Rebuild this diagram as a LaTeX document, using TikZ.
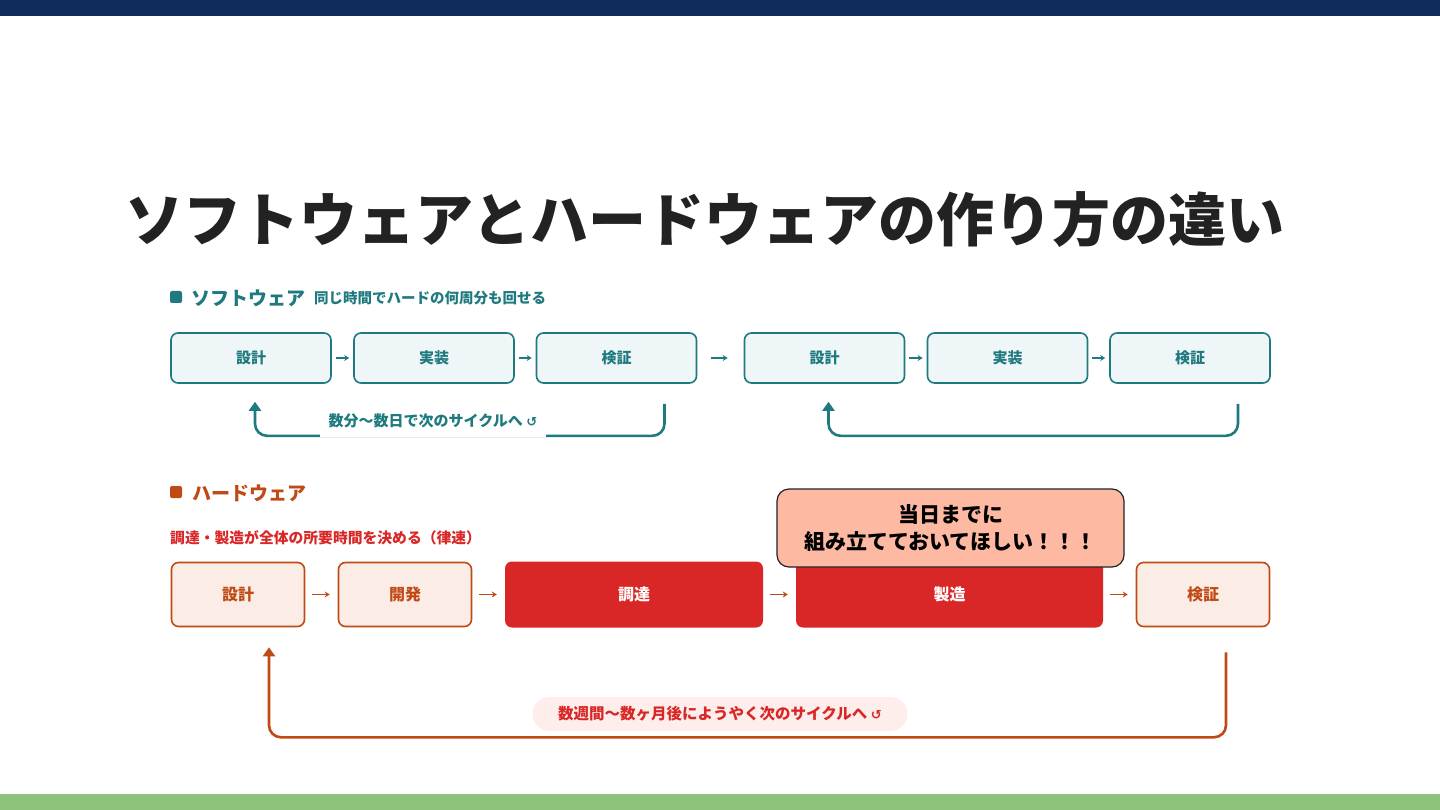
\documentclass[tikz,border=0pt]{standalone}
\usepackage{fontspec}
\setmainfont{Noto Sans CJK JP}
\newfontfamily\symfont{DejaVu Sans}
\usetikzlibrary{arrows.meta,calc}
\definecolor{navy}{HTML}{0F2B5B}
\definecolor{leaf}{HTML}{8DC37A}
\definecolor{teal1}{HTML}{1F7A80}
\definecolor{swfill}{HTML}{EEF6F7}
\definecolor{rust}{HTML}{C04A16}
\definecolor{hwfill}{HTML}{FBEDE5}
\definecolor{hotred}{HTML}{D92727}
\definecolor{salmon}{HTML}{FDB9A2}
\definecolor{pinkbg}{HTML}{FDEEEC}
\definecolor{ink}{HTML}{222222}
\begin{document}
\begin{tikzpicture}[x=1pt,y=-1pt,
    swbox/.style = {draw=teal1,fill=swfill,line width=1.6pt,rounded corners=7pt,
        minimum width=160pt,minimum height=50pt,text=teal1,
        font=\bfseries\fontsize{15}{18}\selectfont},
    hwbox/.style = {draw=rust,fill=hwfill,line width=1.6pt,rounded corners=7pt,
        minimum width=133pt,minimum height=64pt,text=rust,
        font=\bfseries\fontsize{16}{19}\selectfont},
    hotbox/.style = {fill=hotred,rounded corners=7pt,minimum height=66pt,text=white,
        font=\bfseries\fontsize{16}{19}\selectfont},
    flow/.style = {line width=1.3pt,-{Stealth[length=5pt,width=6pt]}},
    loop/.style = {line width=2.6pt,rounded corners=12pt,-{Triangle[length=9pt,width=12pt]}}]
    \useasboundingbox (0,0) rectangle (1440,810);
    \fill[white] (0,0) rectangle (1440,810);
    \fill[navy] (0,0) rectangle (1440,16);
    \fill[leaf] (0,794) rectangle (1440,810);

    \node[text=ink,font=\bfseries\fontsize{58}{60}\selectfont] (title) at (705,220)
        {ソフトウェアとハードウェアの作り方の違い};

    % software
    \node[fill=teal1,rounded corners=2pt,minimum size=12pt,inner sep=0] (swdot) at (176,297) {};
    \node[anchor=west,inner sep=0,text=teal1,font=\bfseries\fontsize{19}{22}\selectfont]
        (swhead) at (191,298) {ソフトウェア};
    \node[anchor=west,inner sep=0,text=teal1,font=\bfseries\fontsize{14.5}{17}\selectfont]
        (swsub) at (314,298) {同じ時間でハードの何周分も回せる};

    \node[swbox] (s1) at (251,358) {設計};
    \node[swbox] (s2) at (434,358) {実装};
    \node[swbox] (s3) at (616.5,358) {検証};
    \node[swbox] (s4) at (824.5,358) {設計};
    \node[swbox] (s5) at (1007.5,358) {実装};
    \node[swbox] (s6) at (1190,358) {検証};

    \draw[flow,teal1,shorten <=4pt,shorten >=4pt] (s1) -- (s2);
    \draw[flow,teal1,shorten <=4pt,shorten >=4pt] (s2) -- (s3);
    \draw[flow,teal1,shorten <=14pt,shorten >=16pt] (s3) -- (s4);
    \draw[flow,teal1,shorten <=4pt,shorten >=4pt] (s4) -- (s5);
    \draw[flow,teal1,shorten <=4pt,shorten >=4pt] (s5) -- (s6);

    \draw[loop,teal1] ($(s3.south)+(48,20)$) |- ($(s1.south)+(4,52)$) -- ($(s1.south)+(4,18)$);
    \draw[loop,teal1] ($(s6.south)+(48,20)$) |- ($(s4.south)+(4,52)$) -- ($(s4.south)+(4,18)$);
    \node[fill=white,text=teal1,inner xsep=9pt,minimum height=32pt,
        font=\bfseries\fontsize{15}{17}\selectfont] (swnote) at (433,421)
        {数分〜数日で次のサイクルへ {\symfont\fontsize{13}{14}\selectfont ↺}};

    % hardware
    \node[fill=rust,rounded corners=2pt,minimum size=12pt,inner sep=0] (hwdot) at (176,492) {};
    \node[anchor=west,inner sep=0,text=rust,font=\bfseries\fontsize{19}{22}\selectfont]
        (hwhead) at (192,493) {ハードウェア};
    \node[anchor=west,inner sep=0,text=hotred,font=\bfseries\fontsize{14.8}{17}\selectfont]
        (hwsub) at (170,538) {調達・製造が全体の所要時間を決める（律速）};

    \node[hwbox] (h1) at (238,594.5) {設計};
    \node[hwbox] (h2) at (405,594.5) {開発};
    \node[hotbox,minimum width=258pt] (h3) at (634,594.5) {調達};
    \node[hotbox,minimum width=307pt] (h4) at (949.5,594.5) {製造};
    \node[hwbox] (h5) at (1203,594.5) {検証};

    \draw[flow,rust,shorten <=7pt,shorten >=8pt] (h1) -- (h2);
    \draw[flow,rust,shorten <=7pt,shorten >=8pt] (h2) -- (h3);
    \draw[flow,rust,shorten <=7pt,shorten >=8pt] (h3) -- (h4);
    \draw[flow,rust,shorten <=7pt,shorten >=8pt] (h4) -- (h5);

    \node[draw=ink,fill=salmon,line width=1.2pt,rounded corners=12pt,
        minimum width=347pt,minimum height=78pt,align=center,text=black,
        font=\bfseries\fontsize{21}{27}\selectfont] (ask) at (950.5,528)
        {当日までに\\組み立てておいてほしい！！！};

    \draw[loop,rust] ($(h5.south)+(23,25)$) |- ($(h1.south)+(31,110)$) -- ($(h1.south)+(31,20)$);
    \node[fill=pinkbg,rounded corners=17pt,minimum width=375pt,minimum height=34pt,
        text=hotred,font=\bfseries\fontsize{15.5}{18}\selectfont] (hwnote) at (720,714)
        {数週間〜数ヶ月後にようやく次のサイクルへ {\symfont\fontsize{13}{14}\selectfont ↺}};
\end{tikzpicture}
\end{document}
